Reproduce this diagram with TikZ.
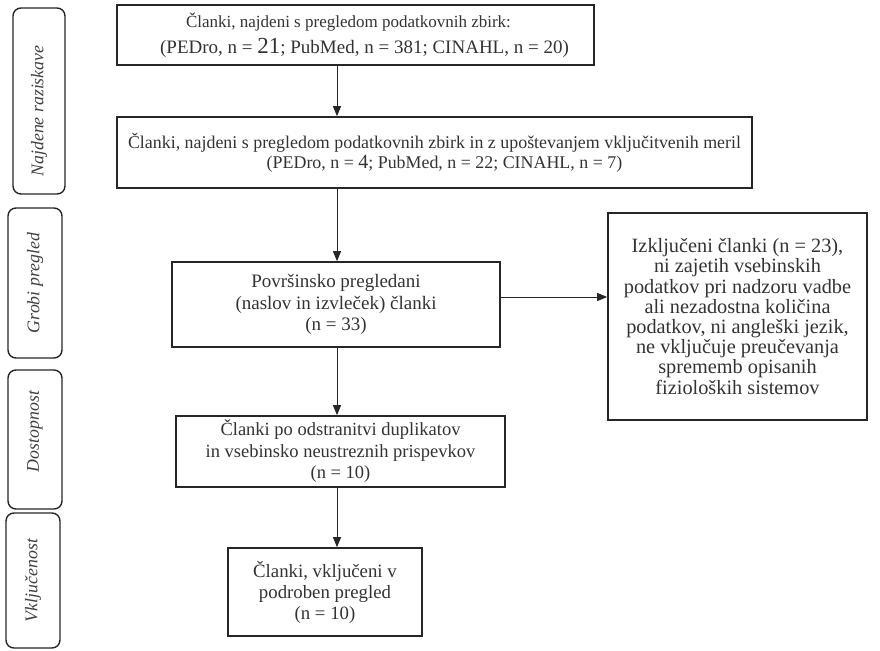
\documentclass[tikz,border=0pt]{standalone}
\usepackage{fontspec}
\setmainfont{Liberation Serif}
\usetikzlibrary{arrows.meta}
\begin{document}
\begin{tikzpicture}[x=1pt,y=-1pt,
  mainbox/.style={draw=black!85,line width=1.6pt,inner sep=0pt,align=center,
     font=\fontsize{19}{21.5}\selectfont,text=black!80},
  sidebox/.style={draw=black!85,line width=1.4pt,rounded corners=8pt,inner sep=0pt,
     rotate=90,font=\fontsize{17.8}{19}\selectfont\itshape,text=black!75},
  arr/.style={draw=black!85,line width=0.9pt,-{Triangle[length=10pt,width=8pt]}}]
\useasboundingbox (0,0) rectangle (880,650);
% side labels
\node[sidebox,minimum width=186pt,minimum height=52pt] (l1) at (39,101) {\hspace*{-20pt}Najdene raziskave};
\node[sidebox,minimum width=150pt,minimum height=54pt] (l2) at (35,283) {Grobi pregled};
\node[sidebox,minimum width=139pt,minimum height=54pt] (l3) at (35,439.5) {Dostopnost\hspace*{-16pt}};
\node[sidebox,minimum width=135pt,minimum height=54pt] (l4) at (33,580.5) {Vključenost};
% main boxes
\node[mainbox,minimum width=477pt,minimum height=60pt,font=\fontsize{17}{26}\selectfont] (b1) at (355.5,35)
  {\hspace*{-14pt}Članki, najdeni s pregledom podatkovnih zbirk:\\
   \hspace*{18pt}{\fontsize{19}{19}\selectfont(PEDro, n = {\fontsize{23}{23}\selectfont 21}; PubMed, n = 381; CINAHL, n = 20)}};
\node[mainbox,minimum width=635pt,minimum height=71pt,font=\fontsize{17.9}{20}\selectfont] (b2) at (434.5,152.5)
  {Članki, najdeni s pregledom podatkovnih zbirk in z upoštevanjem vključitvenih meril\\
   \hspace*{20pt}(PEDro, n = {\fontsize{20}{20}\selectfont 4}; PubMed, n = 22; CINAHL, n = 7)};
\node[mainbox,minimum width=328pt,minimum height=85pt] (b3) at (336,304.5)
  {Površinsko pregledani\\(naslov in izvleček) članki\\(n = 33)};
\node[mainbox,minimum width=259pt,minimum height=207pt,font=\fontsize{20.3}{20.2}\selectfont] (ex) at (737.5,316.5)
  {Izključeni članki (n = 23),\\ni zajetih vsebinskih\\podatkov pri nadzoru vadbe\\ali nezadostna količina\\podatkov, ni angleški jezik,\\ne vključuje preučevanja\\sprememb opisanih\\fizioloških sistemov};
\node[mainbox,minimum width=329pt,minimum height=71pt,font=\fontsize{18.5}{21.5}\selectfont] (b4) at (340.5,451.5)
  {Članki po odstranitvi duplikatov\\in vsebinsko neustreznih prispevkov\\(n = 10)};
\node[mainbox,minimum width=194pt,minimum height=88pt,font=\fontsize{18.8}{21}\selectfont] (b5) at (325,592)
  {Članki, vključeni v\\podroben pregled\\(n = 10)};
% connectors
\coordinate (ax) at (337,0);
\coordinate (ay) at (0,297);
\draw[arr] (b1.south -| ax) -- (b2.north -| ax);
\draw[arr] (b2.south -| ax) -- (b3.north -| ax);
\draw[arr] (b3.east |- ay) -- (ex.west |- ay);
\draw[arr] (b3.south -| ax) -- (b4.north -| ax);
\draw[arr] (b4.south -| ax) -- (b5.north -| ax);
\end{tikzpicture}
\end{document}
